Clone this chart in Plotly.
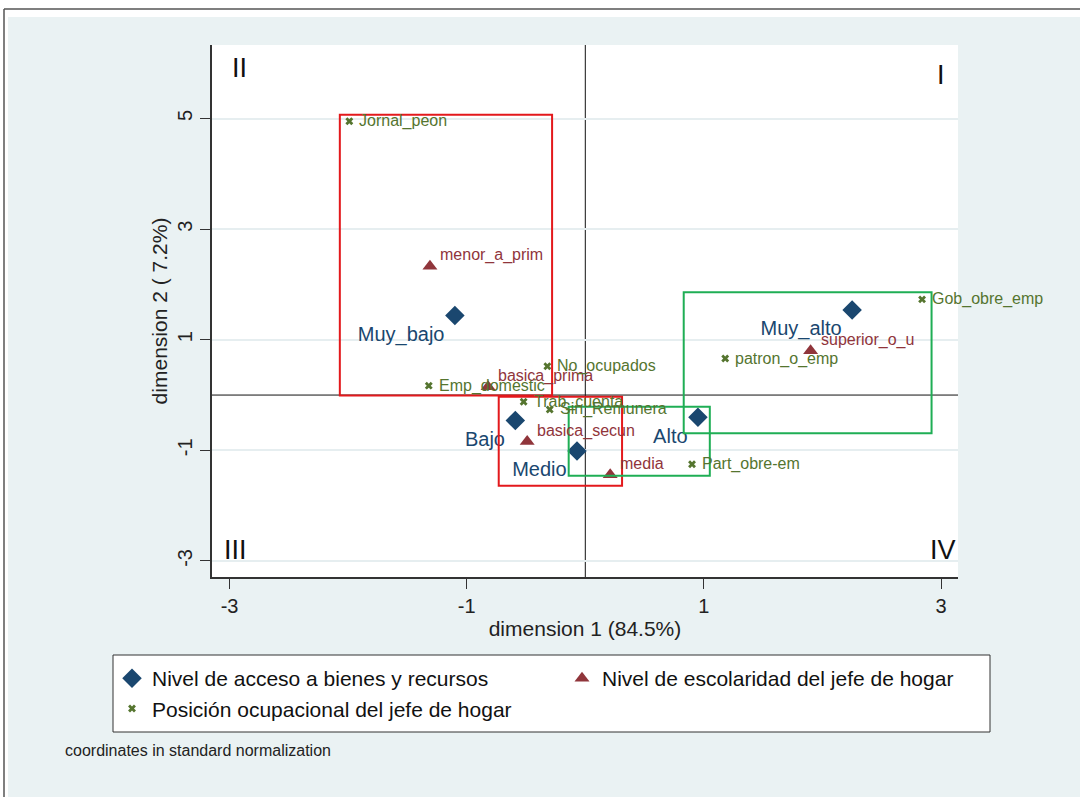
import plotly.graph_objects as go

# Nivel de acceso a bienes y recursos
acceso_cat = ["Muy_bajo", "Bajo", "Medio", "Alto", "Muy_alto"]
acceso_d1 = [-1.10, -0.59, -0.07, 0.95, 2.25]
acceso_d2 = [1.44, -0.46, -1.01, -0.40, 1.54]

# Nivel de escolaridad del jefe de hogar
escol_cat = ["menor_a_prim", "basica_prima", "basica_secun", "media", "superior_o_u"]
escol_d1 = [-1.31, -0.82, -0.49, 0.21, 1.90]
escol_d2 = [2.33, 0.15, -0.84, -1.44, 0.80]

# Posición ocupacional del jefe de hogar
ocup_cat = ["Jornal_peon", "Emp_domestic", "No_ocupados", "Trab_cuenta",
            "Sin_Remunera", "patron_o_emp", "Gob_obre_emp", "Part_obre-em"]
ocup_d1 = [-1.99, -1.32, -0.32, -0.52, -0.30, 1.18, 2.84, 0.90]
ocup_d2 = [4.95, 0.17, 0.52, -0.12, -0.26, 0.66, 1.73, -1.25]

# grouping boxes: (x0, x1, y0, y1, colour)
boxes = [
    (-2.07, -0.28, -0.01, 5.07, "#e3191c"),
    (-0.73, 0.31, -1.64, -0.03, "#e3191c"),
    (-0.14, 1.05, -1.46, -0.21, "#1fae55"),
    (0.83, 2.92, -0.69, 1.86, "#1fae55"),
]

# quadrant labels
quad_txt = ["II", "I", "III", "IV"]
quad_x = [-3.00, 3.00, -3.06, 3.14]
quad_y = [5.92, 5.79, -2.80, -2.80]
quad_anchor = ["left", "center", "left", "right"]

x_ticks = [-3, -1, 1, 3]
y_ticks = [-3, -1, 1, 3, 5]

NAVY = "#1a476f"
MAROON = "#90353b"
GREEN = "#55752f"
FONT = "Liberation Sans, Arial, sans-serif"
BG = "#eaf2f3"

fig = go.Figure()

fig.add_trace(go.Scatter(
    x=acceso_d1, y=acceso_d2, text=acceso_cat, mode="markers+text",
    name="Nivel de acceso a bienes y recursos",
    marker=dict(symbol="diamond", size=15, color=NAVY),
    textposition="bottom left", cliponaxis=False,
    textfont=dict(family=FONT, size=20, color=NAVY),
))
fig.add_trace(go.Scatter(
    x=escol_d1, y=escol_d2, mode="markers",
    name="Nivel de escolaridad del jefe de hogar",
    marker=dict(symbol="triangle-up", size=13, color=MAROON), cliponaxis=False,
))
fig.add_trace(go.Scatter(
    x=ocup_d1, y=ocup_d2, mode="markers",
    name="Posición ocupacional del jefe de hogar",
    marker=dict(symbol="x", size=7, color=GREEN), cliponaxis=False,
))

shapes = []
for x0, x1, y0, y1, col in boxes:
    shapes.append(dict(type="rect", xref="x", yref="y", x0=x0, x1=x1, y0=y0, y1=y1,
                       line=dict(color=col, width=2), fillcolor="rgba(0,0,0,0)",
                       layer="above"))

# reference lines through the origin
shapes.append(dict(type="line", xref="x", yref="paper", x0=0, x1=0, y0=0, y1=1,
                   line=dict(color="#111", width=1), layer="below"))
shapes.append(dict(type="line", xref="paper", yref="y", x0=0, x1=1, y0=0, y1=0,
                   line=dict(color="#111", width=1), layer="below"))

W, H = 1080, 797
ML, MR, MT, MB = 212, 122, 45, 220
PW, PH = W - ML - MR, H - MT - MB


def px(x):
    return (x - ML) / PW


def py(y):
    return (H - MB - y) / PH


# white page strip and frame at the top/left edge
shapes.append(dict(type="rect", xref="paper", yref="paper", x0=px(0), x1=px(W),
                   y0=py(17), y1=py(0), fillcolor="white", line=dict(width=0), layer="below"))
shapes.append(dict(type="rect", xref="paper", yref="paper", x0=px(0), x1=px(8),
                   y0=py(H), y1=py(0), fillcolor="white", line=dict(width=0), layer="below"))
shapes.append(dict(type="line", xref="paper", yref="paper", x0=px(4), x1=px(W),
                   y0=py(9), y1=py(9), line=dict(color="#555", width=1.5), layer="below"))
shapes.append(dict(type="line", xref="paper", yref="paper", x0=px(4), x1=px(4),
                   y0=py(9), y1=py(H), line=dict(color="#555", width=1.5), layer="below"))

# legend frame
shapes.append(dict(type="rect", xref="paper", yref="paper", x0=px(113), x1=px(990),
                   y0=py(732), y1=py(655), fillcolor="white",
                   line=dict(color="#333", width=1), layer="below"))

annotations = []
# point labels: schooling levels sit up-right of the triangle, occupations to the right
for t, ex, ey in zip(escol_cat, escol_d1, escol_d2):
    annotations.append(dict(x=ex, y=ey, xref="x", yref="y", text=t, showarrow=False,
                            xanchor="left", yanchor="middle", xshift=8, yshift=11,
                            font=dict(family=FONT, size=16, color=MAROON)))
for t, ox, oy in zip(ocup_cat, ocup_d1, ocup_d2):
    annotations.append(dict(x=ox, y=oy, xref="x", yref="y", text=t, showarrow=False,
                            xanchor="left", yanchor="middle", xshift=8, yshift=0,
                            font=dict(family=FONT, size=16, color=GREEN)))
for t, qx, qy, anc in zip(quad_txt, quad_x, quad_y, quad_anchor):
    annotations.append(dict(x=qx, y=qy, xref="x", yref="y", text=t, showarrow=False,
                            xanchor=anc, yanchor="middle",
                            font=dict(family=FONT, size=27, color="#111")))
annotations.append(dict(x=px(63), y=py(750), xref="paper", yref="paper",
                        text="coordinates in standard normalization", showarrow=False,
                        xanchor="left", yanchor="middle",
                        font=dict(family=FONT, size=16, color="#222")))

fig.update_layout(
    width=W, height=H,
    margin=dict(l=ML, r=MR, t=MT, b=MB),
    paper_bgcolor=BG, plot_bgcolor="white",
    font=dict(family=FONT, color="#222"),
    shapes=shapes, annotations=annotations,
    showlegend=True,
    legend=dict(orientation="h", x=px(112), y=py(658), xanchor="left", yanchor="top",
                bgcolor="rgba(0,0,0,0)", borderwidth=0,
                font=dict(family=FONT, size=21, color="#111"),
                entrywidth=405, entrywidthmode="pixels", itemsizing="trace"),
    xaxis=dict(range=[-3.148, 3.143], tickvals=x_ticks, ticktext=[str(v) for v in x_ticks],
               showgrid=False, zeroline=False, showline=True, linecolor="#333", linewidth=1.5,
               ticks="outside", ticklen=10, tickcolor="#333", tickwidth=1,
               tickfont=dict(family=FONT, size=20, color="#222"),
               title=dict(text="dimension 1 (84.5%)", standoff=6,
                          font=dict(family=FONT, size=21, color="#222"))),
    yaxis=dict(range=[-3.29, 6.33], tickvals=y_ticks, ticktext=[str(v) for v in y_ticks],
               showgrid=True, gridcolor="#e6eef0", gridwidth=1.5, zeroline=False,
               showline=True, linecolor="#333", linewidth=1.5,
               ticks="outside", ticklen=10, tickcolor="#333", tickwidth=1, tickangle=-90,
               tickfont=dict(family=FONT, size=20, color="#222"),
               title=dict(text="dimension 2 ( 7.2%)", standoff=1,
                          font=dict(family=FONT, size=21, color="#222"))),
)

fig.write_html("out.html")
